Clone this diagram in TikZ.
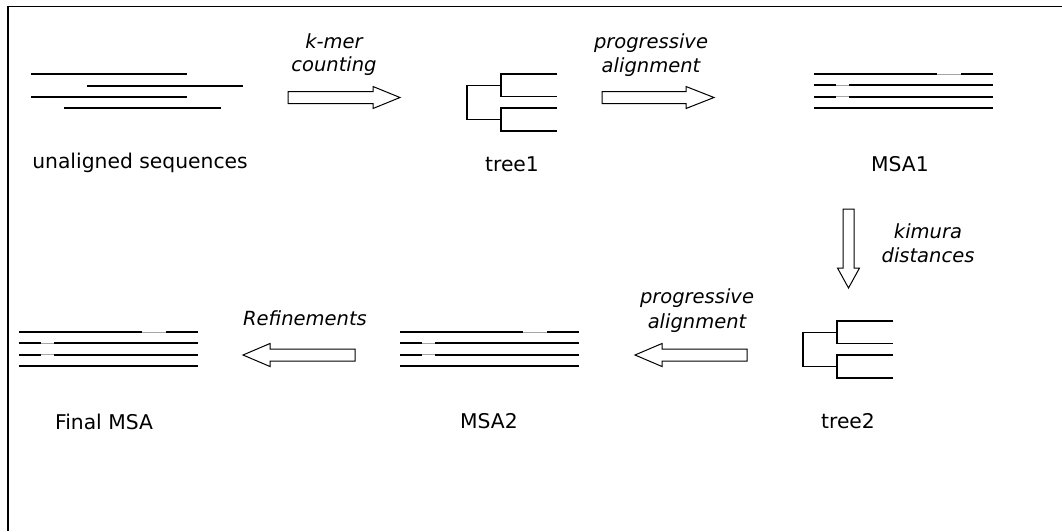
\documentclass[tikz,border=0pt]{standalone}
\usepackage{fontspec}
\setmainfont{DejaVu Sans}
\tikzset{
  seqline/.style={line width=2pt, line cap=butt},
  gapline/.style={line width=1pt, black!35},
  treeline/.style={line width=1.3pt},
  blockarrow/.style={draw, line width=1pt, fill=white, line join=miter},
  lbl/.style={font=\fontsize{20.3}{24}\selectfont, inner sep=0pt, anchor=base},
  itl/.style={font=\fontsize{19.5}{23}\selectfont\itshape, inner sep=0pt, anchor=base},
  frameline/.style={line width=1.5pt},
  pics/msablock/.style={code={
    \draw[seqline] (0,0) -- (123,0);
    \draw[gapline] (123,0) -- (147,0);
    \draw[seqline] (147,0) -- (179,0);
    \draw[seqline] (0,11.3) -- (22,11.3);
    \draw[gapline] (22,11.3) -- (35,11.3);
    \draw[seqline] (35,11.3) -- (179,11.3);
    \draw[seqline] (0,22.7) -- (22,22.7);
    \draw[gapline] (22,22.7) -- (35,22.7);
    \draw[seqline] (35,22.7) -- (179,22.7);
    \draw[seqline] (0,34) -- (179,34);
  }},
  pics/treeblock/.style={code={
    % leaves at 0, 22.5, 34, 57 ; inner at 34 ; root at 0 ; leaves end at 90
    \draw[treeline] (90,0) -| (34,22.5) -- (90,22.5);
    \draw[treeline] (90,34) -| (34,57) -- (90,57);
    \draw[treeline] (34,11.25) -| (0,45.5) -- (34,45.5);
  }}
}
\begin{document}
\begin{tikzpicture}[x=1pt,y=-1pt]
\useasboundingbox (0,0) rectangle (1062,531);
\draw[frameline] (8,531) -- (8,6.5) -- (1062,6.5);

% unaligned sequences
\draw[seqline] (31,74) -- (187,74);
\draw[seqline] (87,86) -- (243,86);
\draw[seqline] (31,97) -- (187,97);
\draw[seqline] (64,108) -- (221,108);
\node[lbl] (lunal) at (140,168) {unaligned sequences};

% arrow 1: k-mer counting
\draw[blockarrow] (288,91.5) -- (373,91.5) -- (373,86.5) -- (400,97.5) -- (373,108.5) -- (373,103.5) -- (288,103.5) -- cycle;
\node[itl] (kmer1) at (334,48) {k-mer};
\node[itl] (kmer2) at (334,71) {counting};

% tree1
\pic (tree1) at (467,74) {treeblock};
\node[lbl] (ltree1) at (512,171) {tree1};

% arrow 2: progressive alignment
\draw[blockarrow] (602,91.5) -- (686,91.5) -- (686,86.5) -- (714,97.5) -- (686,108.5) -- (686,103.5) -- (602,103.5) -- cycle;
\node[itl] (pa1a) at (651,48) {progressive};
\node[itl] (pa1b) at (651,72.5) {alignment};

% MSA1
\pic (msa1) at (814,74) {msablock};
\node[lbl] (lmsa1) at (900,171) {MSA1};

% arrow down: kimura distances
\draw[blockarrow] (843,209) -- (854,209) -- (854,268) -- (859.5,268) -- (848.5,288) -- (837.5,268) -- (843,268) -- cycle;
\node[itl] (kim1) at (928,238) {kimura};
\node[itl] (kim2) at (928,262.5) {distances};

% tree2
\pic (tree2) at (803,321) {treeblock};
\node[lbl] (ltree2) at (848,428) {tree2};

% arrow left: progressive alignment
\draw[blockarrow] (747,349) -- (662,349) -- (662,343.5) -- (635,355) -- (662,366.5) -- (662,361) -- (747,361) -- cycle;
\node[itl] (pa2a) at (697,303) {progressive};
\node[itl] (pa2b) at (697,328.5) {alignment};

% MSA2
\pic (msa2) at (400,332) {msablock};
\node[lbl] (lmsa2) at (489,428) {MSA2};

% arrow left: Refinements
\draw[blockarrow] (355,349) -- (270,349) -- (270,343.5) -- (243,355) -- (270,366.5) -- (270,361) -- (355,361) -- cycle;
\node[itl] (refi) at (305,325) {Refinements};

% Final MSA
\pic (msafinal) at (19,332) {msablock};
\node[lbl] (lfinal) at (104,429) {Final MSA};
\end{tikzpicture}
\end{document}
